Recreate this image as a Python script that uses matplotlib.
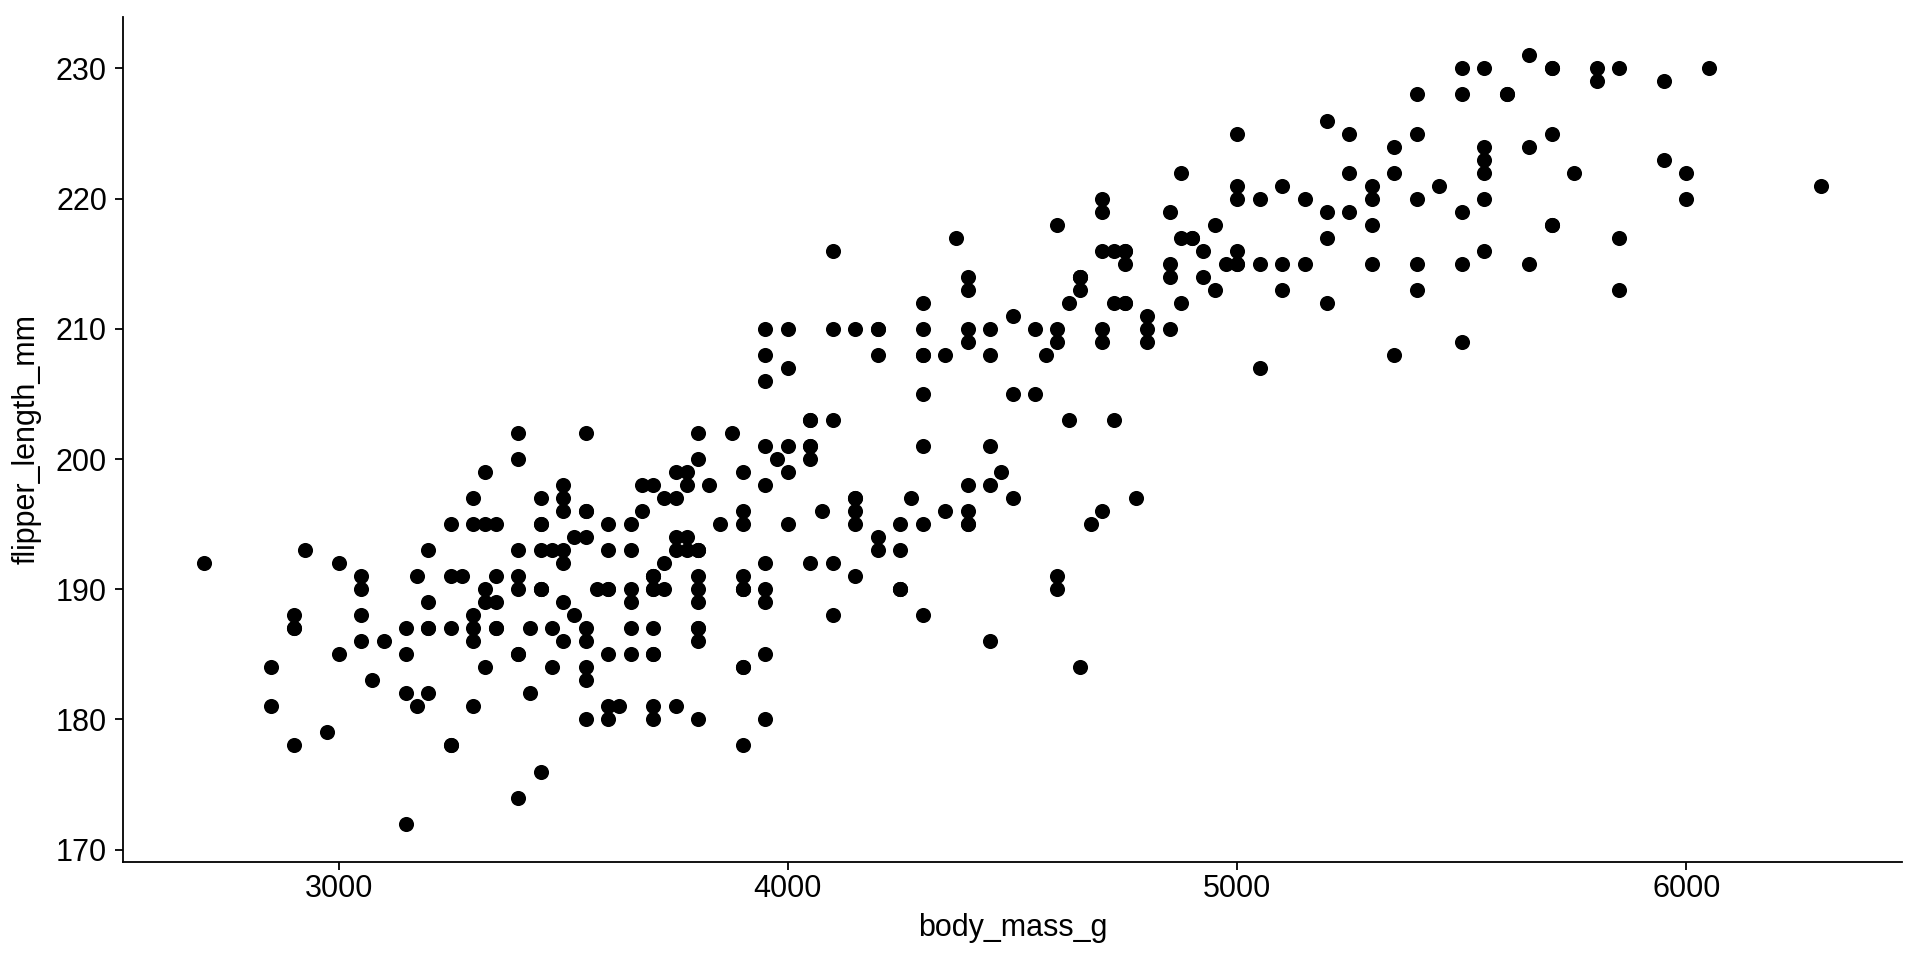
import matplotlib
matplotlib.use("Agg")
import matplotlib.pyplot as plt
import numpy as np

# ---- Data: body_mass_g and flipper_length_mm per species (penguins) ----
adelie_flipper = [
    181, 186, 195, 193, 190, 181, 195, 193, 190, 186, 180, 182, 191, 198, 185, 195, 197, 184, 194,
    174, 180, 189, 185, 180, 187, 183, 187, 172, 180,
    178, 178, 188, 184, 195, 196, 190, 180, 181, 184, 182, 195, 186, 196, 185, 190, 182, 179, 190, 191,
    186, 188, 190, 200, 187, 191, 186, 193, 181, 194, 185, 195, 185, 192, 184, 192, 195, 188,
    190, 198, 190, 190, 196, 197, 190, 195, 191, 184, 187, 195, 189, 196, 187, 193,
    191, 194, 190, 189, 189, 190, 202, 205, 185, 186, 187, 208, 190, 196, 178, 192,
    192, 203, 183, 190, 193, 184, 199, 190, 181, 197, 198, 191, 193, 197, 191, 196,
    188, 199, 189, 189, 187, 198, 176, 202, 186, 199, 191, 195, 191, 210, 190, 197,
    193, 199, 187, 190, 191, 200, 185, 193, 193, 187, 188, 190, 192, 185, 190, 184, 195, 193, 187, 201,
]
adelie_mass = [
    3750, 3800, 3250, 3450, 3650, 3625, 4675, 3475, 4250, 3300, 3700, 3200, 3800, 4400, 3700, 3450, 4500, 3325, 4200,
    3400, 3600, 3800, 3950, 3800, 3800, 3550, 3200, 3150, 3950,
    3250, 3900, 3300, 3900, 3325, 4150, 3950, 3550, 3300, 4650, 3150, 3900, 3100, 4400, 3000, 4600, 3425, 2975, 3450, 4150,
    3500, 4300, 3450, 4050, 2900, 3700, 3550, 3800, 2850, 3750, 3150, 4400, 3600, 4050, 2850, 3950, 3350, 4100,
    3050, 4450, 3600, 3900, 3550, 4150, 3700, 4250, 3700, 3900, 3550, 4000, 3200, 4700, 3800, 4200,
    3350, 3550, 3800, 3500, 3950, 3600, 3550, 4300, 3400, 4450, 3300, 4300, 3700, 4350, 2900, 4100,
    3725, 4725, 3075, 4250, 2925, 3550, 3750, 3900, 3175, 4775, 3825, 4600, 3200, 4275, 3900, 4075,
    2900, 3775, 3350, 3325, 3150, 3500, 3450, 3875, 3050, 4000, 3275, 4300, 3050, 4000, 3325, 3500,
    3500, 4475, 3425, 3900, 3175, 3975, 3400, 4250, 3400, 3475, 3050, 3725, 3000, 3650, 4250, 3475, 3450, 3750, 3700, 4000,
]

gentoo_flipper = [
    211, 230, 210, 218, 215, 210, 211, 219, 209, 215, 214, 216, 214, 213, 210, 217, 210, 221, 209, 222,
    218, 215, 213, 215, 215, 215, 216, 215, 210, 220, 222, 209, 207, 230, 220, 220, 213, 219, 208, 208,
    208, 225, 210, 216, 222, 217, 210, 225, 213, 215, 210, 220, 210, 225, 217, 220, 208, 220, 208, 224,
    208, 221, 214, 231, 219, 230, 214, 229, 220, 223, 216, 221, 221, 217, 216, 230, 209, 220, 215, 223,
    212, 221, 212, 224, 212, 228, 218, 218, 212, 230, 218, 228, 212, 224, 214, 226, 216, 222, 203, 225,
    219, 228, 215, 228, 216, 215, 210, 219, 208, 209, 216, 229, 213, 230, 217, 230, 217, 222, 214, 215,
    222, 212, 213,
]
gentoo_mass = [
    4500, 5700, 4450, 5700, 5400, 4550, 4800, 5200, 4400, 5150, 4650, 5550, 4650, 5850, 4200, 5850, 4150, 6300, 4800, 5350,
    5700, 5000, 4400, 5050, 5000, 5100, 4100, 5650, 4600, 5550, 5250, 4700, 5050, 6050, 5150, 5400, 4950, 5250, 4350, 5350,
    3950, 5700, 4300, 4750, 5550, 4900, 4200, 5400, 5100, 5300, 4850, 5300, 4400, 5000, 4900, 5050, 4300, 5000, 4450, 5550,
    4200, 5300, 4400, 5650, 4700, 5700, 4650, 5800, 4700, 5550, 4750, 5000, 5100, 5200, 4700, 5800, 4600, 6000, 4750, 5950,
    4625, 5450, 4725, 5350, 4750, 5600, 4600, 5300, 4875, 5550, 4950, 5400, 4750, 5650, 4850, 5200, 4925, 4875, 4625, 5250,
    4850, 5600, 4975, 5500, 4725, 5500, 4700, 5500, 4575, 5500, 5000, 5950, 4650, 5500, 4375, 5850, 4875, 6000, 4925, 4850,
    5750, 5200, 5400,
]

chinstrap_flipper = [
    192, 196, 193, 188, 197, 198, 178, 197, 195, 198, 193, 194, 185, 201, 190, 201, 197, 181, 190, 195,
    181, 191, 187, 193, 195, 197, 200, 200, 191, 205, 187, 201, 187, 203, 195, 199, 195, 210, 192, 205,
    210, 187, 196, 196, 196, 201, 190, 212, 187, 198, 199, 201, 193, 203, 187, 197, 191, 203, 202, 194,
    206, 189, 195, 207, 202, 193, 210, 198,
]
chinstrap_mass = [
    3500, 3900, 3650, 3525, 3725, 3950, 3250, 3750, 4150, 3700, 3800, 3775, 3700, 4050, 3575, 4050, 3300, 3700, 3450, 4400,
    3600, 3400, 2900, 3800, 3300, 4150, 3400, 3800, 3700, 4550, 3200, 4300, 3350, 4100, 3600, 3900, 3850, 4800, 2700, 4500,
    3950, 3650, 3550, 3500, 3675, 4450, 3400, 4300, 3250, 3675, 3325, 3950, 3600, 4050, 3350, 3450, 3250, 4050, 3800, 3525,
    3950, 3650, 3650, 4000, 3400, 3775, 4100, 3775,
]

x_ticks = [3000, 4000, 5000, 6000]
y_ticks = [170, 180, 190, 200, 210, 220, 230]

body_mass_g = np.array(adelie_mass + gentoo_mass + chinstrap_mass, dtype=float)
flipper_length_mm = np.array(adelie_flipper + gentoo_flipper + chinstrap_flipper, dtype=float)

plt.rcParams["font.family"] = ["Liberation Sans", "DejaVu Sans"]

fig = plt.figure(figsize=(19.2, 9.6), dpi=100)
fig.patch.set_facecolor("white")
L, R, T, B = 123, 1902, 17, 862
ax = fig.add_axes([L / 1920, (960 - B) / 960, (R - L) / 1920, (B - T) / 960])

ax.scatter(body_mass_g, flipper_length_mm, s=118, c="black", linewidths=0, zorder=3)

# ggplot-style 5% expansion
xr = body_mass_g.max() - body_mass_g.min()
yr = flipper_length_mm.max() - flipper_length_mm.min()
ax.set_xlim(body_mass_g.min() - 0.05 * xr, body_mass_g.max() + 0.05 * xr)
ax.set_ylim(flipper_length_mm.min() - 0.05 * yr, flipper_length_mm.max() + 0.05 * yr)

ax.set_xticks(x_ticks)
ax.set_yticks(y_ticks)
ax.set_xticklabels([str(v) for v in x_ticks])
ax.set_yticklabels([str(v) for v in y_ticks])

for side in ["top", "right"]:
    ax.spines[side].set_visible(False)
for side in ["left", "bottom"]:
    ax.spines[side].set_linewidth(1.3)
    ax.spines[side].set_color("black")

ax.tick_params(axis="both", length=5.8, width=1.3, color="black",
               labelsize=22, labelcolor="black")
ax.tick_params(axis="y", pad=5.8)
ax.tick_params(axis="x", pad=3.0)

ax.set_xlabel("body_mass_g", fontsize=22, color="black", va="center")
ax.set_ylabel("flipper_length_mm", fontsize=22, color="black", va="center", ha="center")
ax.xaxis.set_label_coords(0.5, (B - 928) / (B - T))
ax.yaxis.set_label_coords((27 - L) / (R - L), 0.5)

fig.savefig("out.png", dpi=100, facecolor="white")
